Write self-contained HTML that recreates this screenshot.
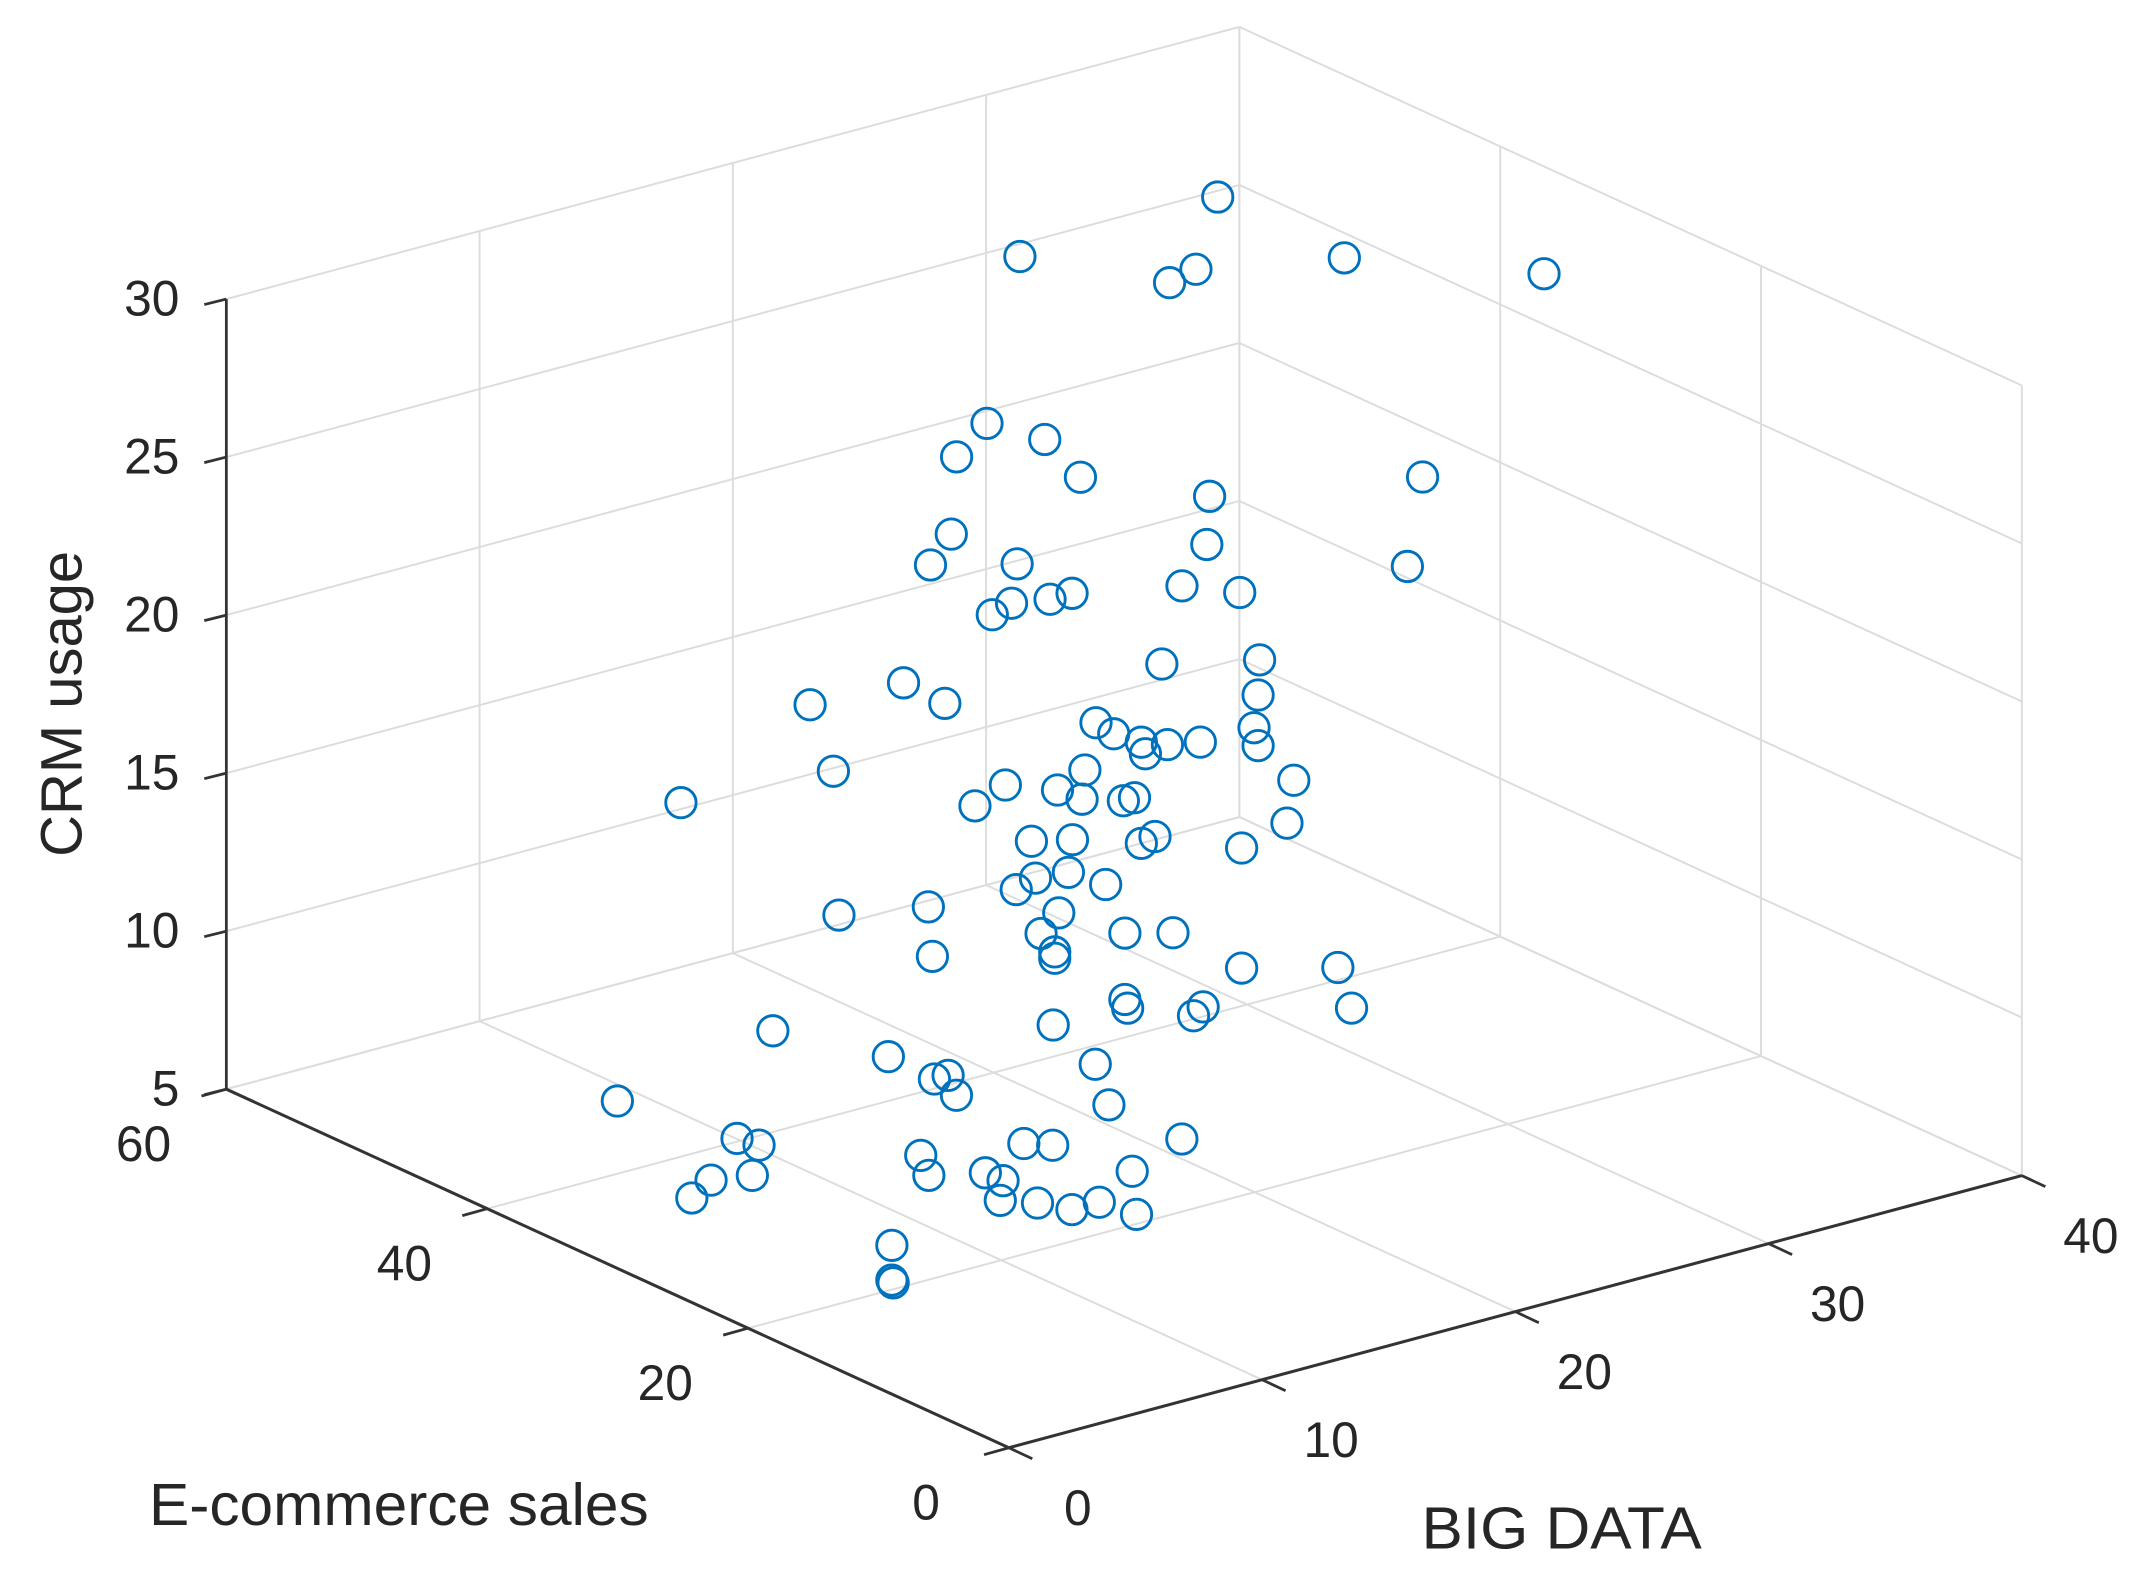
<!DOCTYPE html>
<html><head><meta charset="utf-8">
<style>
html,body{margin:0;padding:0;background:#fff;}
svg{display:block;}
text{font-family:"Liberation Sans",Arial,sans-serif;fill:#262626;}
</style></head>
<body>
<svg id="chart" width="2153" height="1583" viewBox="0 0 1560 1147" preserveAspectRatio="none" xmlns="http://www.w3.org/2000/svg">
<g id="grid"></g>
<g id="axes"></g>
<g id="pts"></g>
<text transform="translate(59,510) rotate(-90)" text-anchor="middle" font-size="42">CRM usage</text>
<text x="108" y="1105" font-size="43" textLength="362" lengthAdjust="spacingAndGlyphs">E-commerce sales</text>
<text x="1030" y="1122" font-size="43" textLength="203" lengthAdjust="spacingAndGlyphs">BIG DATA</text>
</svg>
<script>
// BIG DATA (x), E-commerce sales (y), CRM usage (z)
const bigData = [31.42,23.61,29.52,30.56,36.42,36.58,22.31,24.59,21.11,26.0,31.1,39.51,20.9,30.99,20.08,23.5,38.91,30.01,32.29,22.52,23.28,24.8,25.67,
25.35,21.49,11.29,7.6,12.92,25.29,18.89,19.59,20.68,20.84,21.71,23.01,25.13,25.29,8.52,18.45,15.31,17.37,26.7,18.34,19.97,20.41,14.11,2.5,26.43,16.34,17.96,21.22,20.68,24.64,16.5,17.8,15.74,19.27,8.74,12.27,17.42,16.72,20.03,21.93,12.43,17.26,17.26,24.64,28.44,20.03,20.14,23.12,22.74,28.98,17.2,6.13,10.69,
8.56,2.21,2.75,3.08,9.1,5.74,6.88,11.98,1.67,1.99,4.22,4.92,10.02,4.81,6.28,7.64,8.72,10.19,0.53,0.53,0.58,
5.14,7.29,8.16,3.69,5.32,2.93];
const ecomSales = [45,45,45,45,45,30,45,45,45,45,45,45,45,45,45,45,45,45,45,45,45,45,45,
30,30,30,30,30,30,30,30,30,30,30,30,30,30,30,30,30,30,30,30,30,30,30,30,30,30,30,30,30,30,30,30,30,30,30,30,30,30,30,30,30,30,30,30,30,30,30,30,30,30,30,30,30,
10,10,10,10,10,10,10,10,10,10,10,10,10,10,10,10,10,10,10,10,10,
40,35,35,30,30,30];
const crmUsage = [29.3,29.1,27.0,27.2,26.3,28.6,24.1,23.1,23.3,21.6,19.9,18.7,20.9,18.4,20.1,19.4,16.0,17.3,16.6,18.0,18.2,18.0,18.0,
18.8,19.5,21.1,21.2,20.1,17.7,18.2,17.7,17.2,16.8,16.9,16.7,16.7,16.1,18.9,16.8,17.0,16.4,14.7,15.9,15.5,15.5,16.6,19.2,13.4,15.0,14.7,14.1,14.0,13.0,13.8,13.7,13.6,13.0,14.3,13.8,12.5,12.0,11.3,10.9,12.2,11.3,11.1,9.2,8.4,9.2,8.9,8.3,8.1,7.0,9.0,11.2,9.4,
13.4,14.3,14.3,13.6,12.0,11.5,11.2,10.3,12.0,11.3,10.9,10.5,9.7,9.9,9.5,9.0,9.0,8.3,9.4,8.3,8.2,
7.3,6.6,6.2,7.0,6.8,6.6];
const xTicks = [0,10,20,30,40];
const yTicks = [0,20,40,60];
const zTicks = [5,10,15,20,25,30];

const NS = "http://www.w3.org/2000/svg";
function P(b,e,c){ return [731 + b*18.35 - e*9.45, 1049 - b*4.93 - e*4.33 - (c-5)*22.9]; }
function line(g,a,b,stroke,w,name){
  const l=document.createElementNS(NS,'line');
  l.setAttribute('x1',a[0]);l.setAttribute('y1',a[1]);l.setAttribute('x2',b[0]);l.setAttribute('y2',b[1]);
  l.setAttribute('stroke',stroke);l.setAttribute('stroke-width',w);
  
  
  g.appendChild(l);
}
function txt(g,x,y,s,anchor,name){
  const t=document.createElementNS(NS,'text');
  t.setAttribute('x',x);t.setAttribute('y',y);t.setAttribute('font-size','36');t.setAttribute('text-anchor',anchor);
  t.textContent=s;
  
  
  g.appendChild(t);
}
const grid=document.getElementById('grid'), axes=document.getElementById('axes'), pts=document.getElementById('pts');
const GC="#dcdcdc";
const xmax=40,ymax=60,zmin=5,zmax=30;
xTicks.forEach(b=>line(grid,P(b,0,zmin),P(b,ymax,zmin),GC,1.4,'floor-grid-x'));
yTicks.forEach(e=>line(grid,P(0,e,zmin),P(xmax,e,zmin),GC,1.4,'floor-grid-y'));
xTicks.forEach(b=>line(grid,P(b,ymax,zmin),P(b,ymax,zmax),GC,1.4,'back-wall-grid-x'));
zTicks.forEach(c=>line(grid,P(0,ymax,c),P(xmax,ymax,c),GC,1.4,'back-wall-grid-z'));
yTicks.forEach(e=>line(grid,P(xmax,e,zmin),P(xmax,e,zmax),GC,1.4,'side-wall-grid-y'));
zTicks.forEach(c=>line(grid,P(xmax,0,c),P(xmax,ymax,c),GC,1.4,'side-wall-grid-z'));
const AC="#333";
line(axes,P(0,0,zmin),P(0,ymax,zmin),AC,2.2,'y-axis-line');
line(axes,P(0,0,zmin),P(xmax,0,zmin),AC,2.2,'x-axis-line');
line(axes,P(0,ymax,zmin),P(0,ymax,zmax),AC,2,'z-axis-line');
zTicks.forEach(c=>{const p=P(0,ymax,c);line(axes,p,[p[0]-16,p[1]+4],AC,2,'z-tick');txt(axes,p[0]-34,p[1]+12,String(c),'end','z-tick-label');});
yTicks.forEach(e=>{const p=P(0,e,zmin);line(axes,p,[p[0]-18,p[1]+5],AC,2,'y-tick');txt(axes,p[0]-60,p[1]+52,String(e),'middle','y-tick-label');});
xTicks.forEach(b=>{const p=P(b,0,zmin);line(axes,p,[p[0]+17,p[1]+8],AC,2,'x-tick');txt(axes,p[0]+50,p[1]+56,String(b),'middle','x-tick-label');});
for(let i=0;i<bigData.length;i++){
  const p=P(bigData[i],ecomSales[i],crmUsage[i]);
  const c=document.createElementNS(NS,'circle');
  c.setAttribute('cx',p[0]);c.setAttribute('cy',p[1]);c.setAttribute('r',11);
  c.setAttribute('fill','none');c.setAttribute('stroke','#0072BD');c.setAttribute('stroke-width',2.1);
  
  
  pts.appendChild(c);
}
</script>
</body></html>
